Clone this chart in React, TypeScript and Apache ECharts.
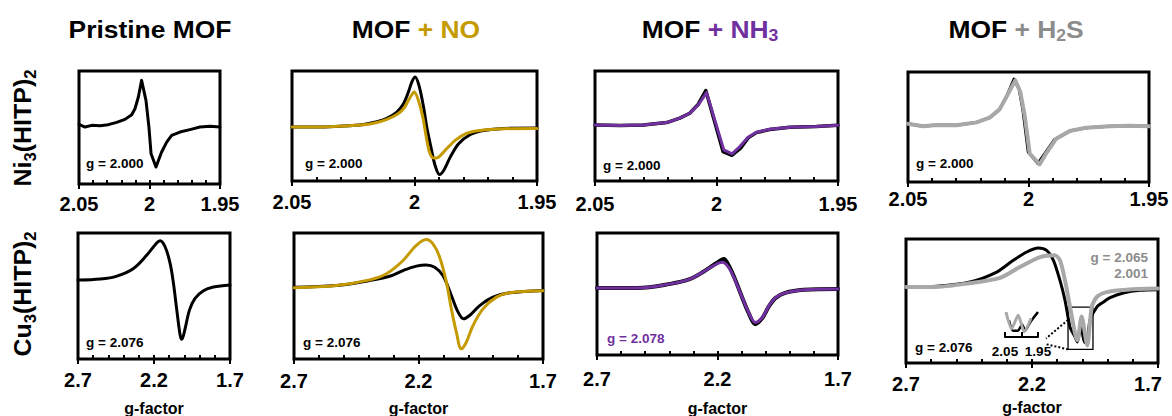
import { useEffect, useRef } from "react";
import * as echarts from "echarts";

type Pt = [number, number];

const FONT = "'Liberation Sans', Arial, Helvetica, sans-serif";
const BLACK = "#000000";
const GOLD = "#C49A00";
const PURPLE = "#7030A0";
const GRAY = "#A8A8A8";
const GRAY_TEXT = "#8C8C8C";

// g-factor windows (axes run from high g on the left to low g on the right)
const niRange = { min: 1.95, max: 2.05, minor: 0.01 };
const cuRange = { min: 1.7, max: 2.7, minor: 0.1 };
const niTickLabels = [2.05, 2, 1.95];
const cuTickLabels = [2.7, 2.2, 1.7];
const insetTicks = [2.05, 2, 1.95];
const insetTickLabels = [2.05, 1.95];
const axisTitle = "g-factor";

// column headers: black prefix, coloured gas, subscript, tail
const columnTitles = [
  { base: "Pristine MOF", gas: "", sub: "", tail: "", color: BLACK },
  { base: "MOF ", gas: "+ NO", sub: "", tail: "", color: GOLD },
  { base: "MOF ", gas: "+ NH", sub: "3", tail: "", color: PURPLE },
  { base: "MOF ", gas: "+ H", sub: "2", tail: "S", color: GRAY_TEXT },
];
const rowLabels = [
  { metal: "Ni", n: "3", ligand: "(HITP)", m: "2" },
  { metal: "Cu", n: "3", ligand: "(HITP)", m: "2" },
];
const gNotes = ["g = 2.000", "g = 2.076", "g = 2.078", "g = 2.065", "2.001"];

// ---- Ni3(HITP)2 derivative spectra: [g, intensity] ----
const niPristine: Pt[] = [
  [2.05, 1.8], [2.0457, -0.6], [2.041, 0.9], [2.0351, 0.6], [2.0292, 1.5], [2.0233, 3.5],
  [2.0174, 6.2], [2.0126, 10.3], [2.0103, 15.6], [2.0079, 26], [2.0056, 40.7], [2.0025, 23],
  [2.0004, -0.6], [1.9989, -24.2], [1.9954, -36], [1.9914, -22.7], [1.9878, -13.9],
  [1.9843, -8], [1.9784, -5], [1.9713, -2.9], [1.9642, -0.6], [1.9571, 0], [1.95, -0.6],
];
const niNOBefore: Pt[] = [
  [2.05, 0], [2.0386, 0], [2.029, 0.9], [2.0208, 2.4], [2.0154, 4.8], [2.0113, 7.9],
  [2.0072, 13.6], [2.0045, 21.2], [2.0025, 31.8], [2.0011, 40.9], [1.9997, 45.5],
  [1.998, 36.4], [1.9963, 18.2], [1.995, 0], [1.9933, -18.2], [1.9916, -34.8], [1.9898, -43],
  [1.9881, -39.4], [1.9854, -27.3], [1.982, -15.2], [1.9772, -6.7], [1.9718, -3],
  [1.9636, -1.2], [1.95, -0.9],
];
const niNOAfter: Pt[] = [
  [2.05, 0], [2.0386, 0], [2.029, 0.9], [2.0208, 2.1], [2.0154, 4.2], [2.0113, 7],
  [2.0072, 11.5], [2.0045, 16.7], [2.0025, 24.2], [2.0011, 29.4], [2.0001, 31.8],
  [1.9984, 24.2], [1.9966, 9.1], [1.9952, -9.1], [1.9939, -22.7], [1.9922, -28.2],
  [1.9902, -27.3], [1.9875, -21.2], [1.9834, -12.1], [1.9786, -5.5], [1.9732, -3],
  [1.9636, -1.5], [1.95, -1.2],
];
const niNH3Before: Pt[] = [
  [2.05, 0], [2.0397, -0.6], [2.0301, 0], [2.0205, 2.1], [2.0151, 6.1], [2.011, 10.6],
  [2.0075, 18.8], [2.0044, 31.2], [1.9973, -24.2], [1.9936, -27.6], [1.9901, -21.2],
  [1.987, -11.8], [1.9836, -7], [1.9781, -4.2], [1.9699, -2.1], [1.9589, -1.5], [1.95, -0.3],
];
const niNH3After: Pt[] = [
  [2.05, 0], [2.0397, -0.6], [2.0301, 0], [2.0205, 2.1], [2.0151, 6.1], [2.011, 10.6],
  [2.0075, 18.2], [2.0041, 29.4], [1.997, -22.7], [1.9936, -26.4], [1.9904, -19.7],
  [1.987, -11.2], [1.9836, -6.7], [1.9781, -3.9], [1.9699, -2.1], [1.9589, -1.5], [1.95, -0.3],
];
const niH2SBefore: Pt[] = [
  [2.05, 1.5], [2.0438, -0.9], [2.0382, 0.3], [2.0299, 0], [2.0216, 2.7], [2.0161, 7],
  [2.012, 14.5], [2.0092, 25.8], [2.006, 42.1], [2.0039, 33.3], [2.0023, 13.6],
  [2.0001, -24.2], [1.9961, -34.8], [1.9933, -25.8], [1.9892, -13], [1.9829, -5.2],
  [1.976, -2.1], [1.9663, -0.9], [1.958, -0.3], [1.95, -0.9],
];
const niH2SAfter: Pt[] = [
  [2.05, 1.5], [2.0438, -0.9], [2.0382, 0.3], [2.0299, 0], [2.0216, 2.7], [2.0161, 7],
  [2.012, 14.5], [2.0092, 25.8], [2.0055, 40.9], [2.0034, 30.3], [2.0016, 9.1],
  [1.9995, -25.8], [1.9954, -35.5], [1.9926, -25.2], [1.9885, -12.1], [1.9829, -5.2],
  [1.976, -2.1], [1.9663, -0.9], [1.958, -0.3], [1.95, -0.9],
];

// ---- Cu3(HITP)2 derivative spectra: [g, intensity] ----
const cuPristine: Pt[] = [
  [2.7, 2.6], [2.553, 3.4], [2.444, 5.8], [2.335, 11.9], [2.247, 22.5], [2.181, 32.3],
  [2.16, 33.9], [2.127, 29.1], [2.094, 15.9], [2.072, 0], [2.05, -21.2], [2.028, -41],
  [2.017, -44.4], [1.995, -35.7], [1.967, -21.2], [1.93, -11.9], [1.875, -5.8],
  [1.809, -2.9], [1.7, -1.3],
];
const cuNOBefore: Pt[] = [
  [2.7, 0], [2.53, 1.3], [2.396, 5.3], [2.316, 8.7], [2.262, 13.2], [2.209, 16.7],
  [2.169, 17.7], [2.135, 15.9], [2.102, 9.3], [2.068, -6.6], [2.041, -19.8], [2.019, -25.1],
  [1.995, -22.5], [1.954, -14.6], [1.901, -7.9], [1.834, -4.5], [1.7, -2.6],
];
const cuNOAfter: Pt[] = [
  [2.7, -0.5], [2.53, 1.3], [2.396, 5.8], [2.329, 10.6], [2.262, 21.2], [2.209, 33.1],
  [2.169, 37.8], [2.142, 34.4], [2.115, 23.8], [2.088, 4], [2.068, -17.2], [2.048, -35.7],
  [2.028, -48.9], [2.008, -43.7], [1.981, -30.4], [1.941, -17.2], [1.887, -7.9],
  [1.834, -4.5], [1.7, -2.9],
];
const cuNH3Before: Pt[] = [
  [2.7, 0], [2.534, 0], [2.396, 3.3], [2.313, 7.4], [2.257, 13.4], [2.216, 18.8],
  [2.195, 21.5], [2.174, 23.7], [2.154, 18.5], [2.126, 6.5], [2.098, -7.6], [2.071, -20.5],
  [2.043, -29.7], [2.015, -25], [1.988, -15.5], [1.96, -8.4], [1.919, -4.1], [1.842, -1.6],
  [1.7, -0.8],
];
const cuNH3After: Pt[] = [
  [2.7, 0], [2.534, 0], [2.396, 3.3], [2.313, 7.4], [2.257, 13.4], [2.216, 18.3],
  [2.181, 21], [2.154, 16.9], [2.126, 6], [2.098, -7.6], [2.071, -19.9], [2.043, -28.3],
  [2.015, -24.5], [1.988, -15.3], [1.96, -8.2], [1.919, -4.1], [1.842, -1.6], [1.7, -0.8],
];
const cuH2SBefore: Pt[] = [
  [2.7, 0], [2.577, 0.8], [2.446, 4.3], [2.34, 12.3], [2.274, 21.8], [2.221, 28.5],
  [2.175, 31.7], [2.142, 29.8], [2.115, 21.8], [2.089, 5.6], [2.069, -10.5], [2.049, -32],
  [2.029, -40.1], [2.02, -44.1], [2.006, -30.6], [1.992, -44.4], [1.978, -38.7],
  [1.97, -26.6], [1.943, -15.9], [1.917, -11.9], [1.89, -8.3], [1.838, -4.6],
  [1.771, -2.4], [1.7, -1.9],
];
const cuH2SAfter: Pt[] = [
  [2.7, 0.2], [2.592, 0.2], [2.459, 3], [2.327, 7.7], [2.248, 16.4], [2.168, 24.4],
  [2.109, 25.8], [2.089, 21.8], [2.069, 5.6], [2.049, -15.9], [2.029, -37.3], [2.02, -42.7],
  [2.003, -23.4], [1.981, -46.8], [1.963, -15.9], [1.943, -7.8], [1.904, -3.8],
  [1.824, -1.9], [1.7, -1],
];
// zoomed view of the split minimum (g 2.05 – 1.95)
const cuH2SZoomBefore: Pt[] = [
  [2.038, 16], [2.026, 6], [2.011, 6], [1.998, 12], [1.989, 6], [1.974, 14], [1.95, 24],
];
const cuH2SZoomAfter: Pt[] = [
  [2.047, 24], [2.03, 8], [2.01, 21], [1.992, 5], [1.971, 18],
];
// region of the main H2S spectrum that the zoomed view shows: [g, intensity] corners
const zoomWindow: Pt[] = [[2.057, -16], [1.958, -50]];

interface Trace { data: Pt[]; color: string; width: number; smooth: number | boolean }
interface Panel {
  box: [number, number, number, number];
  kind: "ni" | "cu";
  y: [number, number];
  margin: number;
  nameGap: number;
  nudgeLow?: boolean;
  traces: Trace[];
  note: { text: string; color: string; x: number; y: number };
}

const panels: Panel[] = [
  { box: [79, 71, 220, 184], kind: "ni", y: [-51, 49], margin: 10, nameGap: 0,
    traces: [{ data: niPristine, color: BLACK, width: 3, smooth: false }],
    note: { text: gNotes[0], color: BLACK, x: 86, y: 163 } },
  { box: [292, 71, 537, 181], kind: "ni", y: [-49, 51], margin: 11, nameGap: 0,
    traces: [
      { data: niNOBefore, color: BLACK, width: 3, smooth: 0.3 },
      { data: niNOAfter, color: GOLD, width: 3, smooth: 0.3 },
    ],
    note: { text: gNotes[0], color: BLACK, x: 305, y: 163 } },
  { box: [595, 71, 838, 181], kind: "ni", y: [-51, 49], margin: 13, nameGap: 0,
    traces: [
      { data: niNH3Before, color: BLACK, width: 3.5, smooth: false },
      { data: niNH3After, color: PURPLE, width: 3, smooth: false },
    ],
    note: { text: gNotes[0], color: BLACK, x: 603, y: 165 } },
  { box: [908, 72, 1149, 182], kind: "ni", y: [-51.5, 48.5], margin: 7, nameGap: 0,
    traces: [
      { data: niH2SBefore, color: BLACK, width: 3, smooth: false },
      { data: niH2SAfter, color: GRAY, width: 4, smooth: false },
    ],
    note: { text: gNotes[0], color: BLACK, x: 916, y: 163 } },
  { box: [78, 233, 230, 359], kind: "cu", y: [-60, 40], margin: 11, nameGap: 41,
    traces: [{ data: cuPristine, color: BLACK, width: 3, smooth: 0.35 }],
    note: { text: gNotes[1], color: BLACK, x: 86, y: 342 } },
  { box: [294, 233, 543, 359], kind: "cu", y: [-57, 43], margin: 12, nameGap: 41,
    traces: [
      { data: cuNOBefore, color: BLACK, width: 3, smooth: 0.35 },
      { data: cuNOAfter, color: GOLD, width: 3, smooth: 0.35 },
    ],
    note: { text: gNotes[1], color: BLACK, x: 303, y: 342 } },
  { box: [597, 233, 838, 355], kind: "cu", y: [-55, 45], margin: 14, nameGap: 45,
    traces: [
      { data: cuNH3Before, color: BLACK, width: 4, smooth: 0.35 },
      { data: cuNH3After, color: PURPLE, width: 3, smooth: 0.35 },
    ],
    note: { text: gNotes[2], color: PURPLE, x: 607, y: 338 } },
  { box: [906, 239, 1158, 363], kind: "cu", y: [-61, 39], margin: 11, nameGap: 36, nudgeLow: true,
    traces: [
      { data: cuH2SBefore, color: BLACK, width: 3, smooth: 0.25 },
      { data: cuH2SAfter, color: GRAY, width: 4, smooth: 0.25 },
    ],
    note: { text: gNotes[1], color: BLACK, x: 915, y: 347 } },
];

const insetBox: [number, number, number, number] = [1005, 311, 1038, 337];

const tickFont = { color: BLACK, fontSize: 20, fontWeight: "bold" as const, fontFamily: FONT };

function buildOption() {
  const grid: any[] = [];
  const xAxis: any[] = [];
  const yAxis: any[] = [];
  const series: any[] = [];
  let windowSeries = -1;

  panels.forEach((p, i) => {
    const [l, t, r, b] = p.box;
    grid.push({
      left: l, top: t, width: r - l, height: b - t,
      show: true, borderColor: BLACK, borderWidth: 3, backgroundColor: "transparent",
      containLabel: false, outerBoundsMode: "none",
    });
    const rg = p.kind === "ni" ? niRange : cuRange;
    const majors = p.kind === "ni" ? niTickLabels : cuTickLabels;
    const minorIndex = xAxis.length;
    // minor ticks, pointing into the frame
    xAxis.push({
      type: "value", gridIndex: i, position: "bottom", min: rg.min, max: rg.max,
      interval: rg.minor, inverse: true,
      axisLine: { show: false, onZero: false }, splitLine: { show: false },
      axisLabel: { show: false },
      axisTick: { show: true, inside: true, length: 4, lineStyle: { color: BLACK, width: 2 } },
    });
    // labelled major ticks
    const label: any = { show: true, customValues: majors, margin: p.margin, ...tickFont };
    if (p.nudgeLow) {
      // keep the lowest-g label clear of the right edge of the page
      label.formatter = (v: number) => (Math.abs(v - rg.min) < 1e-9 ? `{r|${v}}` : `${v}`);
      label.rich = { r: { ...tickFont, padding: [0, 20, 0, 0] } };
    }
    xAxis.push({
      type: "value", gridIndex: i, position: "bottom", min: rg.min, max: rg.max, inverse: true,
      axisLine: { show: false, onZero: false }, splitLine: { show: false },
      axisTick: {
        show: true, inside: false, length: 5, customValues: majors,
        lineStyle: { color: BLACK, width: 2 },
      },
      axisLabel: label,
      name: p.kind === "cu" ? axisTitle : "",
      nameLocation: "middle",
      nameGap: p.nameGap,
      nameTextStyle: { color: BLACK, fontSize: 16, fontWeight: "bold", fontFamily: FONT },
    });
    yAxis.push({ type: "value", gridIndex: i, min: p.y[0], max: p.y[1], show: false });
    p.traces.forEach((tr, k) => {
      const s: any = {
        type: "line", xAxisIndex: minorIndex, yAxisIndex: i, data: tr.data,
        showSymbol: false, symbol: "none", smooth: tr.smooth,
        lineStyle: { color: tr.color, width: tr.width, cap: "round", join: "round" },
        itemStyle: { color: tr.color }, silent: true, z: 2 + k,
      };
      if (i === 7 && k === 1) {
        windowSeries = series.length;
        s.markArea = {
          silent: true,
          label: { show: false },
          itemStyle: { color: "rgba(0,0,0,0)", borderColor: BLACK, borderWidth: 1.3 },
          data: [[{ coord: zoomWindow[0] }, { coord: zoomWindow[1] }]],
        };
      }
      series.push(s);
    });
  });

  // zoomed view of the split minimum
  const gi = grid.length;
  const [il, it, ir, ib] = insetBox;
  grid.push({ left: il, top: it, width: ir - il, height: ib - it, show: false, containLabel: false, outerBoundsMode: "none" });
  const insetX = xAxis.length;
  xAxis.push({
    type: "value", gridIndex: gi, position: "bottom", min: 1.95, max: 2.05, inverse: true,
    axisLine: { show: true, onZero: false, lineStyle: { color: BLACK, width: 2 } },
    splitLine: { show: false },
    axisTick: { show: true, inside: true, length: 5, customValues: insetTicks, lineStyle: { color: BLACK, width: 2 } },
    axisLabel: { show: true, customValues: insetTickLabels, margin: 7, color: BLACK, fontSize: 13.5, fontWeight: "bold", fontFamily: FONT },
  });
  yAxis.push({ type: "value", gridIndex: gi, min: 0, max: 25, show: false });
  const insetSeries = series.length;
  series.push({
    type: "line", xAxisIndex: insetX, yAxisIndex: gi, data: cuH2SZoomBefore, showSymbol: false,
    symbol: "none", smooth: 0.2, lineStyle: { color: BLACK, width: 2.5 }, silent: true, z: 2,
  });
  series.push({
    type: "line", xAxisIndex: insetX, yAxisIndex: gi, data: cuH2SZoomAfter, showSymbol: false,
    symbol: "none", smooth: 0.2, lineStyle: { color: GRAY, width: 3 }, silent: true, z: 3,
  });

  return {
    option: {
      animation: false,
      backgroundColor: "#ffffff",
      textStyle: { fontFamily: FONT },
      grid, xAxis, yAxis, series,
    },
    windowSeries,
    insetSeries,
  };
}

function buildGraphics(chart: echarts.ECharts, windowSeries: number, insetSeries: number) {
  const els: any[] = [];
  const titleX = [150, 416, 710, 1016];
  columnTitles.forEach((c, i) => {
    let text = `{k|${c.base}}`;
    if (c.gas) text += `{a|${c.gas}}`;
    if (c.sub) text += `{s|${c.sub}}`;
    if (c.tail) text += `{a|${c.tail}}`;
    els.push({
      type: "text", x: titleX[i], y: 29, scaleX: 1.1, silent: true,
      style: {
        text, align: "center", verticalAlign: "middle",
        fontSize: 24, fontWeight: "bold", fontFamily: FONT, fill: BLACK,
        rich: {
          k: { fontSize: 24, fontWeight: "bold", fontFamily: FONT, fill: BLACK, lineHeight: 30 },
          a: { fontSize: 24, fontWeight: "bold", fontFamily: FONT, fill: c.color, lineHeight: 30 },
          s: { fontSize: 16, fontWeight: "bold", fontFamily: FONT, fill: c.color, lineHeight: 16, verticalAlign: "bottom" },
        },
      },
    });
  });

  const rowY = [128, 294];
  rowLabels.forEach((r, i) => {
    els.push({
      type: "text", x: 23, y: rowY[i], rotation: Math.PI / 2, scaleX: 1.04, silent: true,
      style: {
        text: `{m|${r.metal}}{s|${r.n}}{m|${r.ligand}}{s|${r.m}}`,
        align: "center", verticalAlign: "middle",
        fontSize: 24, fontWeight: "bold", fontFamily: FONT, fill: BLACK,
        rich: {
          m: { fontSize: 24, fontWeight: "bold", fontFamily: FONT, fill: BLACK, lineHeight: 30 },
          s: { fontSize: 16, fontWeight: "bold", fontFamily: FONT, fill: BLACK, lineHeight: 16, verticalAlign: "bottom" },
        },
      },
    });
  });

  panels.forEach((p) => {
    els.push({
      type: "text", x: p.note.x, y: p.note.y, silent: true,
      style: {
        text: p.note.text, align: "left", verticalAlign: "middle",
        fontSize: 13.5, fontWeight: "bold", fontFamily: FONT, fill: p.note.color,
      },
    });
  });

  // the two g-values of the split signal
  els.push({
    type: "text", x: 1148, y: 265, silent: true,
    style: {
      text: `${gNotes[3]}\n${gNotes[4]}`, align: "right", verticalAlign: "middle", lineHeight: 16,
      fontSize: 13.5, fontWeight: "bold", fontFamily: FONT, fill: GRAY_TEXT,
    },
  });

  // dotted connectors between the framed region and the zoomed view
  const top = chart.convertToPixel({ seriesIndex: windowSeries }, zoomWindow[0]) as number[];
  const bot = chart.convertToPixel({ seriesIndex: windowSeries }, zoomWindow[1]) as number[];
  const end = chart.convertToPixel({ seriesIndex: insetSeries }, [1.95, 0]) as number[];
  if (top && bot && end) {
    const dash = { stroke: BLACK, lineWidth: 2, lineDash: [2, 2] };
    els.push({
      type: "line", silent: true,
      shape: { x1: top[0], y1: top[1] + 0.3 * (bot[1] - top[1]), x2: end[0] + 8, y2: end[1] + 1.5 },
      style: dash,
    });
    els.push({
      type: "line", silent: true,
      shape: { x1: top[0], y1: bot[1], x2: end[0] + 7, y2: end[1] + 7 },
      style: dash,
    });
  }
  return els;
}

export default function App() {
  const ref = useRef<HTMLDivElement>(null);
  useEffect(() => {
    if (!ref.current) return;
    const chart = echarts.init(ref.current, null, { renderer: "svg" });
    const { option, windowSeries, insetSeries } = buildOption();
    chart.setOption(option);
    chart.setOption({ graphic: { elements: buildGraphics(chart, windowSeries, insetSeries) } });
    return () => chart.dispose();
  }, []);
  return (
    <div
      ref={ref}
      style={{ position: "absolute", left: 0, top: 0, width: 1172, height: 416, background: "#fff" }}
    />
  );
}
